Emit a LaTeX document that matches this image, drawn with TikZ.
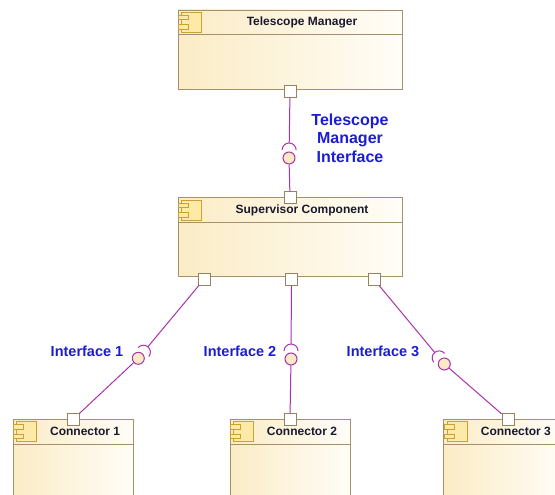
\documentclass[tikz,border=0pt]{standalone}
\usepackage{fontspec}
\setsansfont{Liberation Sans}
\usetikzlibrary{positioning,calc}

\definecolor{boxcol}{RGB}{165,145,105}
\definecolor{boxleftcol}{RGB}{251,236,198}
\definecolor{boxrightcol}{RGB}{255,253,247}
\definecolor{iconcol}{RGB}{205,160,50}
\definecolor{iconfillcol}{RGB}{253,233,168}
\definecolor{portcol}{RGB}{150,130,95}
\definecolor{wirecol}{RGB}{170,50,170}
\definecolor{ballcol}{RGB}{250,233,198}
\definecolor{ifcol}{RGB}{28,28,215}
\definecolor{titlecol}{RGB}{25,25,45}

\tikzset{
  component/.style={draw=boxcol, line width=0.9pt,
    left color=boxleftcol, right color=boxrightcol,
    minimum width=224pt, minimum height=79pt, inner sep=0pt},
  connector/.style={component, minimum width=120pt},
  port/.style={draw=portcol, fill=white, line width=0.8pt,
    minimum size=12pt, inner sep=0pt},
  ball/.style={circle, draw=wirecol, fill=ballcol, line width=1pt,
    minimum size=12pt, inner sep=0pt},
  link/.style={draw=wirecol, line width=1pt},
  comptitle/.style={font=\sffamily\bfseries\fontsize{12}{14}\selectfont,
    text=titlecol, inner sep=0pt},
  iflabel/.style={font=\sffamily\bfseries\fontsize{14.5}{18.5}\selectfont,
    text=ifcol, align=center, inner sep=0pt},
  compicon/.pic={
    \draw[iconcol, line width=0.8pt, fill=iconfillcol] (0,0) rectangle (20,20);
    \draw[iconcol, line width=0.8pt, fill=iconfillcol] (-3,3) rectangle (6.5,7.5);
    \draw[iconcol, line width=0.8pt, fill=iconfillcol] (-3,12.5) rectangle (6.5,17);
  }
}

\begin{document}
\begin{tikzpicture}[x=1pt, y=-1pt]
    \clip (0,0) rectangle (555,495);

    % Add the components
    \node[component] (tm) at (290,49.5) {};
    \node[component,
          below=108pt of tm] (sup) {};
    \node[connector,
          below=142pt of sup] (c2) {};
    \node[connector,
          left=96pt of c2] (c1) {};
    \node[connector,
          right=93pt of c2] (c3) {};

    % Header line, icon and name of each component
    \foreach \nm/\txt in {tm/Telescope Manager, sup/Supervisor Component,
                          c1/Connector 1, c2/Connector 2, c3/Connector 3}{
      \draw[boxcol, line width=0.9pt]
        ($(\nm.north west)+(0,25)$) -- ($(\nm.north east)+(0,25)$);
      \pic at ($(\nm.north west)+(4,2.5)$) {compicon};
      \node[comptitle] (\nm-t)
        at ($(\nm.north west)!0.5!(\nm.north east)+(12,12.5)$) {\txt};
    }

    % Ports on the component borders
    \node[port] (tmp) at ($(tm.south)+(0,2)$) {};
    \node[port] (sp0) at (sup.north) {};
    \node[port] (sp1) at ($(sup.south)+(-86,2)$) {};
    \node[port] (sp2) at ($(sup.south)+(1.5,2)$) {};
    \node[port] (sp3) at ($(sup.south)+(84,2)$) {};
    \node[port] (c1p) at (c1.north) {};
    \node[port] (c2p) at (c2.north) {};
    \node[port] (c3p) at ($(c3.north)+(4,0)$) {};

    % Provided interfaces (balls)
    \node[ball] (b0) at (289,158) {};
    \node[ball] (b1) at (138.3,358.3) {};
    \node[ball] (b2) at (291,359) {};
    \node[ball] (b3) at (444.3,364) {};

    % Connect the ports through ball and socket
    \foreach \bb/\pp in {b0/tmp, b1/sp1, b2/sp2, b3/sp3}{
      \coordinate (\bb-s) at ($(\bb)!8pt!(\pp)$);
      \draw[link] (\pp) -- ($(\bb)!15pt!(\pp)$);
      \draw[link] let \p1=($(\pp)-(\bb-s)$), \n1={atan2(\y1,\x1)} in
        ($(\bb-s)+(\n1-90:7pt)$) arc[start angle=\n1-90, end angle=\n1+90, radius=7pt];
    }
    \draw[link] (b0) -- (sp0);
    \draw[link] (b1) -- (c1p);
    \draw[link] (b2) -- (c2p);
    \draw[link] (b3) -- (c3p);

    % Interface names
    \node[iflabel, font=\sffamily\bfseries\fontsize{16}{18.5}\selectfont] (tml)
      at (350,138) {Telescope\\Manager\\Interface};
    \node[iflabel] (l1) at (87,351) {Interface 1};
    \node[iflabel] (l2) at (240,351) {Interface 2};
    \node[iflabel] (l3) at (383,351) {Interface 3};
\end{tikzpicture}
\end{document}
